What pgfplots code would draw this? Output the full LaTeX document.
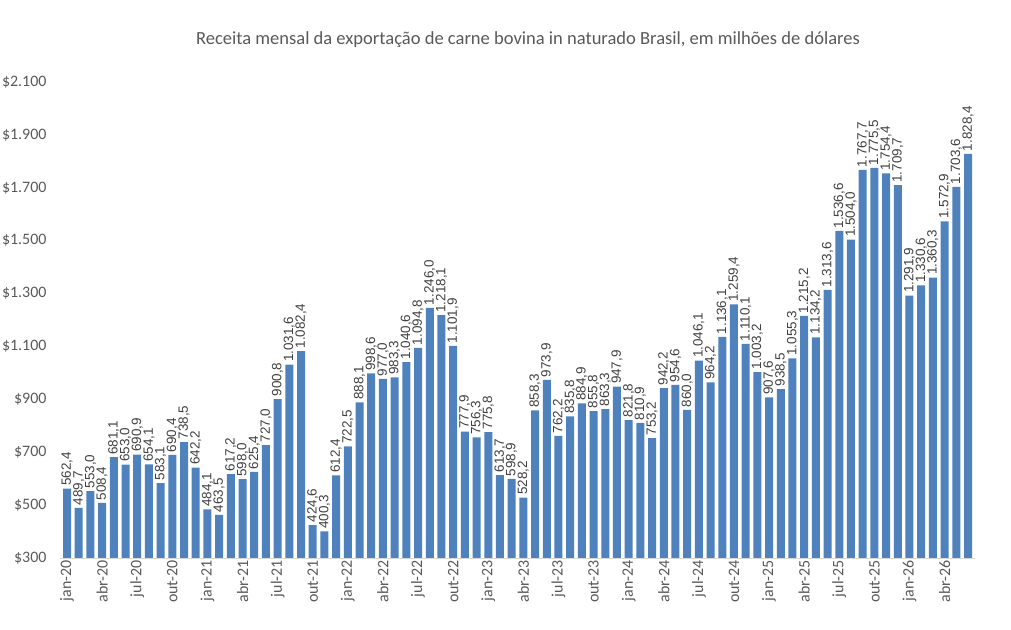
\documentclass[border=0pt]{standalone}
\usepackage{pgfplots}
\pgfplotsset{compat=1.18}
\usepackage{pgfplotstable}
\usepackage{fontspec}
\setmainfont{Carlito}
\newfontfamily\labelfont{Liberation Sans}

\definecolor{barblue}{RGB}{79,129,189}
\definecolor{txtgray}{RGB}{89,89,89}
\definecolor{lbgray}{RGB}{64,64,64}
\definecolor{axgray}{RGB}{217,217,217}

% Receita mensal, jan-20 a jun-26 (US$ milhões)
\pgfplotstableread{
x y
0 562.4
1 489.7
2 553.0
3 508.4
4 681.1
5 653.0
6 690.9
7 654.1
8 583.1
9 690.4
10 738.5
11 642.2
12 484.1
13 463.5
14 617.2
15 598.0
16 625.4
17 727.0
18 900.8
19 1031.6
20 1082.4
21 424.6
22 400.3
23 612.4
24 722.5
25 888.1
26 998.6
27 977.0
28 983.3
29 1040.6
30 1094.8
31 1246.0
32 1218.1
33 1101.9
34 777.9
35 756.3
36 775.8
37 613.7
38 598.9
39 528.2
40 858.3
41 973.9
42 762.2
43 835.8
44 884.9
45 855.8
46 863.3
47 947.9
48 821.8
49 810.9
50 753.2
51 942.2
52 954.6
53 860.0
54 1046.1
55 964.2
56 1136.1
57 1259.4
58 1110.1
59 1003.2
60 907.6
61 938.5
62 1055.3
63 1215.2
64 1134.2
65 1313.6
66 1536.6
67 1504.0
68 1767.7
69 1775.5
70 1754.4
71 1709.7
72 1291.9
73 1330.6
74 1360.3
75 1572.9
76 1703.6
77 1828.4
}\receita

\begin{document}
\begin{tikzpicture}[x=1bp,y=1bp]
\path[use as bounding box] (-60,-72) rectangle (951,558);
\begin{axis}[
  at={(0,0)}, anchor=south west,
  scale only axis,
  width=915bp, height=476bp,
  xmin=-0.6, xmax=77.6,
  ymin=300, ymax=2100,
  ytick={300,500,...,2100},
  yticklabels={\$300,\$500,\$700,\$900,\$1.100,\$1.300,\$1.500,\$1.700,\$1.900,\$2.100},
  xtick={0,3,...,75},
  xticklabels={jan-20,abr-20,jul-20,out-20,jan-21,abr-21,jul-21,out-21,jan-22,abr-22,jul-22,out-22,jan-23,abr-23,jul-23,out-23,jan-24,abr-24,jul-24,out-24,jan-25,abr-25,jul-25,out-25,jan-26,abr-26},
  x tick label style={rotate=90, anchor=east, font=\fontsize{16}{18}\selectfont, text=txtgray, inner sep=2bp},
  y tick label style={font=\fontsize{16}{18}\selectfont, text=txtgray, xshift=-10bp},
  axis x line*=bottom,
  axis y line*=left,
  y axis line style={draw=none},
  x axis line style={draw=axgray, line width=0.8bp, -},
  major tick length=0pt,
  ybar, bar width=8bp,
  bar shift=0pt,
  clip=false,
  nodes near coords,
  nodes near coords style={rotate=90, anchor=west, font=\labelfont\fontsize{13.5}{15}\selectfont, text=lbgray, inner sep=2.5bp,
    /pgf/number format/.cd, fixed, fixed zerofill, precision=1, use comma, 1000 sep={.}, assume math mode=true},
]
\addplot[fill=barblue, draw=none] table[x=x, y=y] {\receita};
\end{axis}
\node[font=\fontsize{18.6}{22}\selectfont, text=txtgray] at (468,518) {Receita mensal da exportação de carne bovina in naturado Brasil, em milhões de dólares};
\end{tikzpicture}
\end{document}
